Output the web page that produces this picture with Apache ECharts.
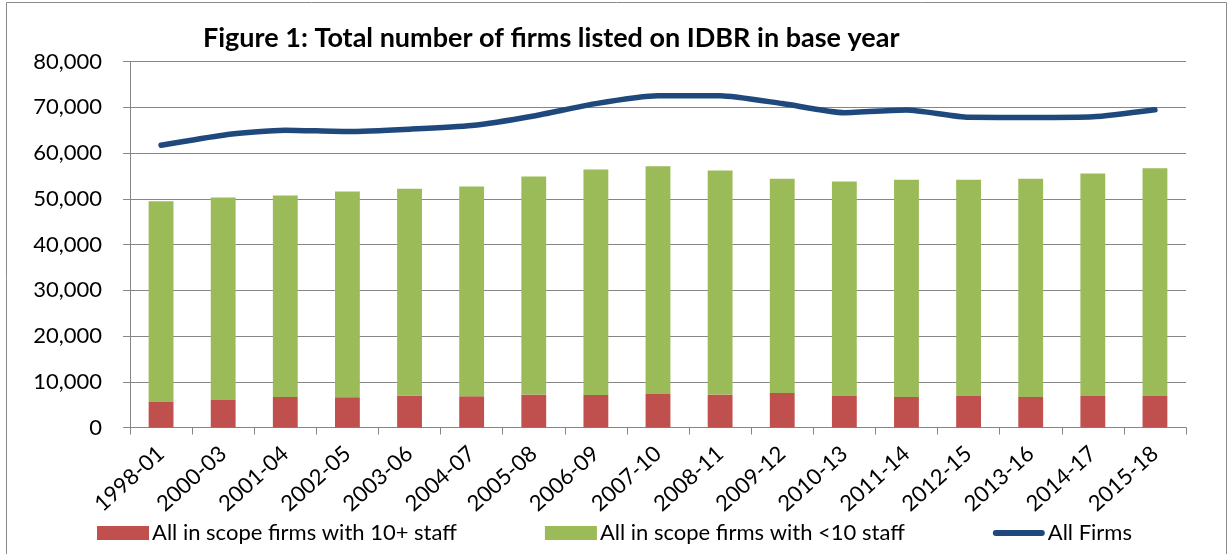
<!DOCTYPE html>
<html><head><meta charset="utf-8">
<script src="https://cdn.jsdelivr.net/npm/echarts@6/dist/echarts.min.js"></script>
<style>html,body{margin:0;padding:0;background:#fff}#c{width:1229px;height:554px}</style>
</head><body><div id="c"></div>
<script>
const categories = ['1998-01','2000-03','2001-04','2002-05','2003-06','2004-07','2005-08','2006-09','2007-10','2008-11','2009-12','2010-13','2011-14','2012-15','2013-16','2014-17','2015-18'];
const firms10plus = [5590,6030,6680,6620,6990,6830,7200,7130,7340,7200,7550,6900,6680,6900,6680,6900,6900];
const firmsUnder10 = [43890,44250,44040,44970,45190,45860,47670,49270,49780,48980,46820,46880,47470,47250,47690,48620,49780];
const allFirms = [61700,63900,65000,64700,65200,66000,68100,70800,72500,72500,70800,68800,69400,67800,67750,67900,69450];
const yTicks = [0,10000,20000,30000,40000,50000,60000,70000,80000];
const seriesNames = ['All in scope firms with 10+ staff','All in scope firms with <10 staff','All Firms'];
const titleText = 'Figure 1: Total number of firms listed on IDBR in base year';

const FONT = 'Lato, "Open Sans", sans-serif';
const chart = echarts.init(document.getElementById('c'), null, {renderer:'canvas'});
chart.setOption({
  animation:false,
  backgroundColor:'#fff',
  graphic:[{type:'rect',shape:{x:6.5,y:2.5,width:1220,height:600},style:{fill:'none',stroke:'#8a8a8a',lineWidth:1},silent:true}],
  title:{text:titleText,left:198,top:20,textStyle:{fontFamily:FONT,fontWeight:'bold',fontSize:27,color:'#000'}},
  grid:{left:130,right:43,top:61.5,bottom:126.5,containLabel:false},
  legend:{bottom:5,left:'center',itemWidth:52,itemHeight:14,itemGap:88,symbolKeepAspect:true,
    textStyle:{fontFamily:FONT,fontSize:22,color:'#000',padding:[0,0,0,-2]},
    data:[{name:seriesNames[0],icon:'rect'},{name:seriesNames[1],icon:'rect'},
      {name:seriesNames[2],icon:'path://M3,0 L49,0 A3,3 0 0 1 49,6 L3,6 A3,3 0 0 1 3,0 Z'}]},
  xAxis:{type:'category',data:categories,boundaryGap:true,
    axisLine:{lineStyle:{color:'#868686',width:1}},
    axisTick:{show:true,alignWithLabel:false,length:7,lineStyle:{color:'#868686'}},
    axisLabel:{rotate:42,fontFamily:FONT,fontSize:22,color:'#000',margin:23,interval:0}},
  yAxis:{type:'value',min:0,max:80000,interval:10000,
    axisLine:{show:true,lineStyle:{color:'#868686',width:1}},
    axisTick:{show:true,length:7,lineStyle:{color:'#868686'}},
    splitLine:{lineStyle:{color:'#868686',width:1}},
    axisLabel:{fontFamily:FONT,fontSize:22,color:'#000',margin:28,
      formatter:v=>yTicks.includes(v)?v.toLocaleString('en-US'):''}},
  series:[
    {name:seriesNames[0],type:'bar',stack:'s',data:firms10plus,barWidth:'40%',itemStyle:{color:'#C0504D'}},
    {name:seriesNames[1],type:'bar',stack:'s',data:firmsUnder10,barWidth:'40%',itemStyle:{color:'#9BBB59'}},
    {name:seriesNames[2],type:'line',data:allFirms,symbol:'none',smooth:0.2,
      lineStyle:{color:'#1F497D',width:5.5,cap:'round',join:'round'},itemStyle:{color:'#1F497D'}}
  ]
});
</script></body></html>
